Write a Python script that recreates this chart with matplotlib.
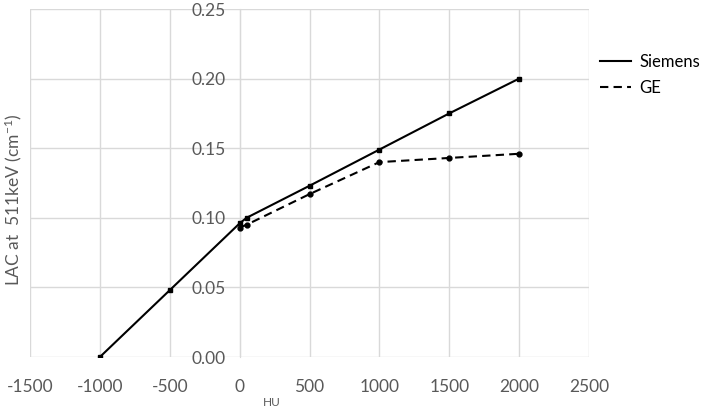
import matplotlib
matplotlib.use("Agg")
import matplotlib.pyplot as plt

hu_siemens = [-1000, -500, 0, 50, 500, 1000, 1500, 2000]
lac_siemens = [0.000, 0.048, 0.096, 0.100, 0.123, 0.149, 0.175, 0.200]
hu_ge = [0, 50, 500, 1000, 1500, 2000]
lac_ge = [0.093, 0.095, 0.117, 0.140, 0.143, 0.146]
x_ticks = [-1500, -1000, -500, 0, 500, 1000, 1500, 2000, 2500]
y_ticks = [0.00, 0.05, 0.10, 0.15, 0.20, 0.25]

plt.rcParams['font.family'] = ['Lato', 'DejaVu Sans']
plt.rcParams['mathtext.fontset'] = 'custom'
plt.rcParams['mathtext.rm'] = 'Lato'
plt.rcParams['mathtext.it'] = 'Lato'

fig = plt.figure(figsize=(7.09, 4.08), dpi=100)
ax = fig.add_axes([30/709, 1-357/408, (589-30)/709, (357-9)/408])

txt = '#595959'
grid = '#d9d9d9'

ax.plot(hu_siemens, lac_siemens, '-', color='black', lw=1.5, marker='s', ms=3.5, label='Siemens', zorder=3)
ax.plot(hu_ge, lac_ge, '--', color='black', lw=1.5, marker='o', ms=3.5, label='GE', zorder=3, dashes=(4, 2.5))

ax.set_xlim(-1500, 2500)
ax.set_ylim(0, 0.25)
ax.set_xticks(x_ticks)
ax.set_yticks(y_ticks)
ax.set_xticklabels([str(v) for v in x_ticks])
ax.set_yticklabels([f'{v:.2f}' for v in y_ticks])
ax.grid(True, color=grid, lw=1)
ax.set_axisbelow(True)

for s in ['top', 'right', 'bottom']:
    ax.spines[s].set_visible(False)
ax.spines['left'].set_position(('data', 0))
ax.spines['left'].set_color(grid)
ax.spines['left'].set_zorder(1)
ax.tick_params(axis='both', length=0, labelsize=12.5, colors=txt)
ax.tick_params(axis='x', pad=16)
ax.tick_params(axis='y', pad=10)

fig.text(272/709, 1-403/408, 'HU', fontsize=8.5, color=txt, ha='center', va='center')
fig.text(13/709, 1-200/408, 'LAC at  511keV (cm$^{-1}$)', fontsize=12.5, color=txt,
         rotation=90, ha='center', va='center')

leg = fig.legend(loc='upper left', bbox_to_anchor=(593/709, 1-47/408), frameon=False,
                 fontsize=12, handlelength=1.9, labelspacing=0.6, handletextpad=0.5,
                 borderpad=0.4, borderaxespad=0)
for h in leg.legend_handles:
    h.set_marker('')

fig.savefig('out.png', dpi=100)
